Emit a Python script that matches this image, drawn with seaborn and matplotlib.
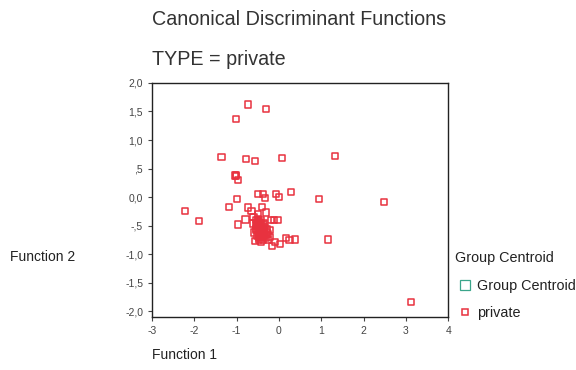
import pandas as pd
import matplotlib
matplotlib.use("Agg")
import matplotlib.pyplot as plt
from matplotlib.lines import Line2D
import seaborn as sns

# canonical scores
func1 = [-0.73, -0.31, -1.01, -1.36, -0.77, -0.56, 0.07, 1.33, -1.02, -1.02, -1.03,
         -0.97, -0.99, -0.49, -0.37, -0.33, -0.07, 0.01, 0.29, 0.94, 2.49, -1.19,
         -2.23, -1.89, -0.97, -0.79, -0.73, -0.65, -0.40, -0.50, -0.31, -0.19,
         -0.03, -0.11, -0.60, -0.60, -0.21, 0.17, 0.25, 0.38, 1.16, 0.02, -0.17,
         -0.10, -0.56, -0.42, -0.25, 3.13,
         -0.52, -0.48, -0.45, -0.50, -0.42, -0.40, -0.55, -0.47, -0.38, -0.35,
         -0.30, -0.28, -0.45, -0.52, -0.33, -0.43, -0.50, -0.25, -0.22, -0.38,
         -0.48, -0.42, -0.46, -0.35, -0.55, -0.40,
         -0.50, -0.44, -0.47, -0.41, -0.53, -0.45, -0.39, -0.49, -0.43, -0.36,
         -0.51, -0.46, -0.40, -0.32, -0.58, -0.44, -0.48, -0.37, -0.29, -0.53]
func2 = [1.62, 1.54, 1.37, 0.70, 0.67, 0.63, 0.69, 0.72, 0.39, 0.37, 0.38,
         0.30, -0.03, 0.06, 0.06, -0.02, 0.05, 0.00, 0.09, -0.03, -0.09, -0.17,
         -0.24, -0.42, -0.48, -0.39, -0.18, -0.24, -0.17, -0.29, -0.27, -0.40,
         -0.40, -0.40, -0.35, -0.46, -0.57, -0.71, -0.75, -0.74, -0.74, -0.82, -0.86,
         -0.78, -0.77, -0.79, -0.75, -1.83,
         -0.45, -0.50, -0.55, -0.60, -0.48, -0.62, -0.55, -0.65, -0.58, -0.68,
         -0.72, -0.62, -0.70, -0.68, -0.52, -0.40, -0.38, -0.65, -0.70, -0.75,
         -0.75, -0.58, -0.45, -0.45, -0.48, -0.52,
         -0.42, -0.47, -0.52, -0.56, -0.58, -0.61, -0.64, -0.57, -0.67, -0.60,
         -0.50, -0.44, -0.70, -0.66, -0.62, -0.54, -0.72, -0.48, -0.56, -0.40]

xticks = [-3, -2, -1, 0, 1, 2, 3, 4]
yticks = [2.0, 1.5, 1.0, 0.5, 0.0, -0.5, -1.0, -1.5, -2.0]
ytick_labels = ["2,0", "1,5", "1,0", ",5", "0,0", "-,5", "-1,0", "-1,5", "-2,0"]

df = pd.DataFrame({"Function 1": func1, "Function 2": func2, "TYPE": "private"})

sns.set_style("white")
plt.rcParams["font.family"] = ["Liberation Sans", "DejaVu Sans"]

red = "#e8323f"
fig = plt.figure(figsize=(5.76, 3.70), dpi=100)
ax = fig.add_axes([0.264, 0.143, 0.514, 0.633])
sns.scatterplot(data=df, x="Function 1", y="Function 2", marker="s", s=20,
                facecolor="none", edgecolor=red, linewidth=1.1, ax=ax, legend=False)

ax.set_xlim(-3, 4)
ax.set_ylim(-2.1, 2.0)
ax.set_xticks(xticks)
ax.set_xticklabels([str(t) for t in xticks])
ax.set_yticks(yticks)
ax.set_yticklabels(ytick_labels)
ax.tick_params(axis="both", labelsize=7.5, colors="#444444", length=3, direction="out",
               left=True, bottom=True)
ax.set_xlabel("")
ax.set_ylabel("")
for sp in ax.spines.values():
    sp.set_color("#222222")
    sp.set_linewidth(1.0)

fig.text(0.264, 0.946, "Canonical Discriminant Functions", fontsize=14.2, color="#333333",
         va="center")
fig.text(0.264, 0.838, "TYPE = private", fontsize=14.2, color="#333333", va="center")
fig.text(0.017, 0.305, "Function 2", fontsize=10, color="#222222", va="center")
fig.text(0.264, 0.04, "Function 1", fontsize=10, color="#222222", va="center")
fig.text(0.79, 0.303, "Group Centroid", fontsize=10.4, color="#222222", va="center")

handles = [
    Line2D([], [], marker="s", linestyle="none", markersize=7, markerfacecolor="none",
           markeredgecolor="#3aa58a", markeredgewidth=0.9, label="Group Centroid"),
    Line2D([], [], marker="s", linestyle="none", markersize=4.5, markerfacecolor="none",
           markeredgecolor=red, markeredgewidth=1.1, label="private"),
]
leg = fig.legend(handles=handles, loc="upper left", bbox_to_anchor=(0.795, 0.247),
                 frameon=False, fontsize=10.4, handletextpad=0.3, labelspacing=0.95,
                 handlelength=1.0, borderpad=0, borderaxespad=0)
for t in leg.get_texts():
    t.set_color("#222222")

fig.savefig("out.png", dpi=100)
